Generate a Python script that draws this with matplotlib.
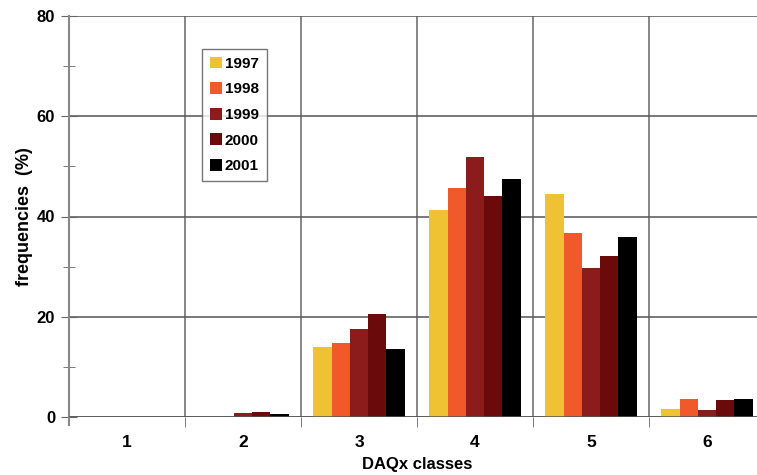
import numpy as np
import matplotlib
matplotlib.use("Agg")
import matplotlib.pyplot as plt
from matplotlib.ticker import MultipleLocator, FixedLocator

plt.rcParams["font.family"] = ["Liberation Sans", "DejaVu Sans"]
plt.rcParams["font.weight"] = "bold"

classes = ["1", "2", "3", "4", "5", "6"]
years = ["1997", "1998", "1999", "2000", "2001"]
v1997 = [0, 0, 14.0, 41.3, 44.5, 1.5]
v1998 = [0, 0, 14.8, 45.6, 36.8, 3.6]
v1999 = [0, 0.7, 17.5, 51.9, 29.8, 1.3]
v2000 = [0, 1.0, 20.6, 44.1, 32.2, 3.3]
v2001 = [0, 0.6, 13.5, 47.5, 36.0, 3.6]
series = [v1997, v1998, v1999, v2000, v2001]
colors = ["#EEC232", "#F05A2A", "#8C1C1C", "#6A0A0A", "#000000"]

fig = plt.figure(figsize=(7.57, 4.75), dpi=100)
W, H = 757, 475
ax = fig.add_axes([69 / W, (H - 417) / H, (765 - 69) / W, (417 - 16) / H])

x = np.arange(1, len(classes) + 1)
bw = 0.158
for i, (vals, c, lab) in enumerate(zip(series, colors, years)):
    ax.bar(x + (i - 2) * bw, vals, width=bw, color=c, label=lab, zorder=3)

ax.set_xlim(0.5, 6.5)
ax.set_ylim(0, 80)
ax.yaxis.set_major_locator(MultipleLocator(20))
ax.yaxis.set_minor_locator(MultipleLocator(10))
ax.set_xticks(x)
ax.set_xticklabels(classes)
ax.xaxis.set_minor_locator(FixedLocator(np.arange(1.5, 6.5, 1)))

ax.grid(True, axis="y", which="major", color="#555555", lw=1.1, zorder=1)
ax.grid(True, axis="x", which="minor", color="#666666", lw=1.1, zorder=1)

for s in ["top", "right", "bottom"]:
    ax.spines[s].set_visible(False)
ax.spines["left"].set_color("#888888")
ax.spines["left"].set_linewidth(1.5)
ax.spines["left"].set_bounds(-1.5, 80)
ax.axhline(0, color="#555555", lw=1.1, zorder=4)

ax.tick_params(axis="y", which="major", direction="inout", length=12, color="#666666", labelsize=12, pad=4)
ax.tick_params(axis="y", which="minor", direction="inout", length=8, color="#666666")
ax.tick_params(axis="x", which="major", length=0, labelsize=12.5, pad=13)
ax.tick_params(axis="x", which="minor", direction="out", length=7, color="#666666")

ax.set_xlabel("DAQx classes", fontsize=12, fontweight="bold", labelpad=5)
ax.set_ylabel("frequencies  (%)", fontsize=13, fontweight="bold", labelpad=3)

leg = ax.legend(loc="upper left", bbox_to_anchor=((202 - 69) / (765 - 69), (417 - 49) / 401),
                frameon=True, fancybox=False, edgecolor="#555555", fontsize=11,
                handlelength=0.8, handleheight=0.8, handletextpad=0.2,
                labelspacing=0.75, borderpad=0.5, borderaxespad=0)
leg.get_frame().set_linewidth(1.0)
for t in leg.get_texts():
    t.set_fontweight("bold")

fig.savefig("out.png", dpi=100)
